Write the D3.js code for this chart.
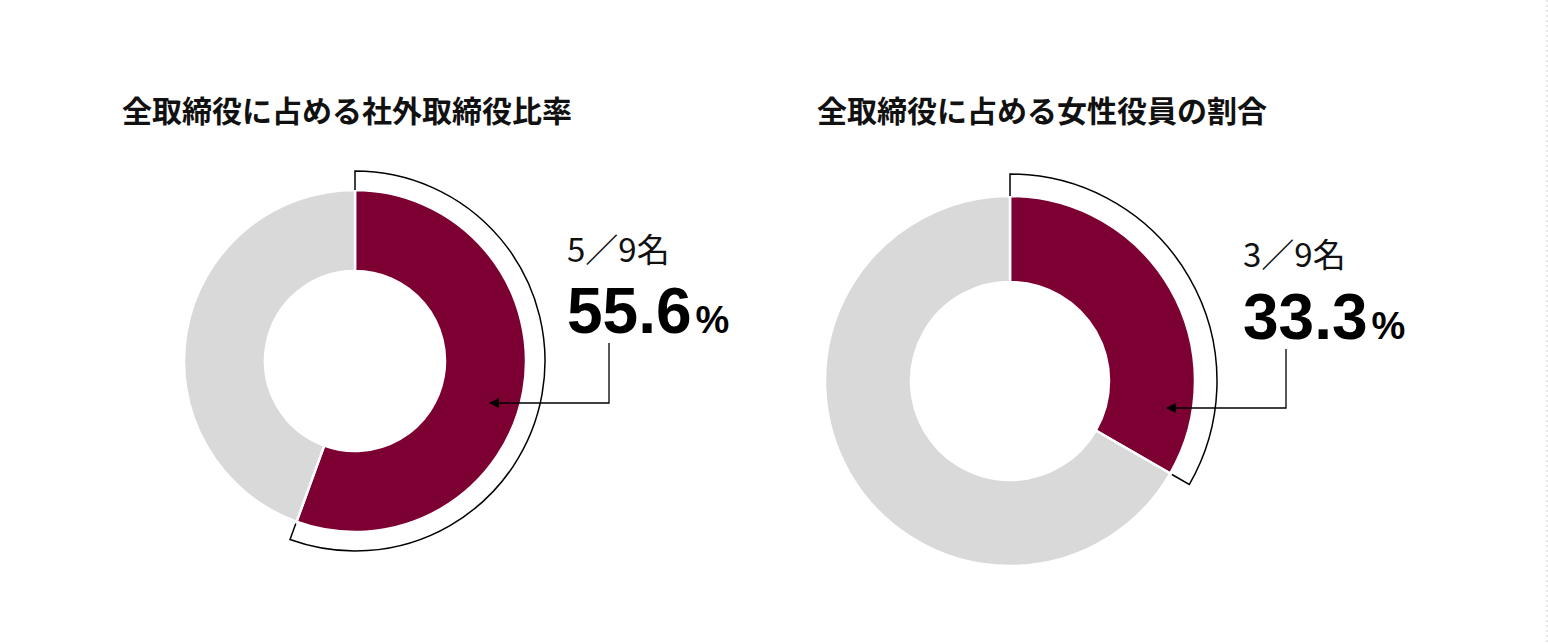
<!DOCTYPE html><html><head><meta charset="utf-8"><script src="https://cdn.jsdelivr.net/npm/d3@7"></script>
<style>body{margin:0;background:#fff}</style></head><body><svg id="c" width="1548" height="644"></svg><script>
const titles=["全取締役に占める社外取締役比率","全取締役に占める女性役員の割合"];
const counts=[5,3];
const totals=[9,9];
const pctLabels=["55.6","33.3"];
const svg=d3.select("#c");
const font="'Noto Sans CJK JP','Noto Sans',sans-serif";
svg.append("line").attr("x1",1547).attr("x2",1547).attr("y1",0).attr("y2",644).attr("stroke","#ccc").attr("stroke-dasharray","2,3");
const cfg=[{cx:355,cy:361,r:171,ri:90,rb:190,tx:122,lx:567,ly:262,px:567,py:333,leadX:609,leadTop:343,leadY:403,arrowX:490},
{cx:1010,cy:381,r:185,ri:99,rb:207,tx:817,lx:1243,ly:267,px:1243,py:339,leadX:1286,leadTop:349,leadY:408,arrowX:1167}];
svg.append("defs").append("marker").attr("id","ar").attr("viewBox","0 0 10 10").attr("refX",9).attr("refY",5)
 .attr("markerWidth",10).attr("markerHeight",10).attr("markerUnits","userSpaceOnUse").attr("orient","auto")
 .append("path").attr("d","M0,0L10,5L0,10z").attr("fill","#000");
cfg.forEach((c,i)=>{
 svg.append("text").attr("x",c.tx).attr("y",122).attr("font-family",font).attr("font-weight","bold").attr("font-size",30).attr("fill","#111").text(titles[i]);
 const g=svg.append("g").attr("transform",`translate(${c.cx},${c.cy})`);
 const pie=d3.pie().sort(null)([counts[i],totals[i]-counts[i]]);
 const arc=d3.arc().innerRadius(c.ri).outerRadius(c.r);
 g.selectAll("path.s").data(pie).join("path").attr("d",arc).attr("fill",(d,j)=>j?"#d9d9d9":"#7d0033").attr("stroke","#fff").attr("stroke-width",2.5);
 const a1=pie[0].endAngle;
 const p=d3.path();
 const ptA=(r,a)=>[r*Math.sin(a),-r*Math.cos(a)];
 let s=ptA(c.r,0);p.moveTo(s[0],s[1]);let t=ptA(c.rb,0);p.lineTo(t[0],t[1]);
 p.arc(0,0,c.rb,-Math.PI/2,a1-Math.PI/2);let e=ptA(c.r+2,a1);p.lineTo(e[0],e[1]);
 g.append("path").attr("d",p.toString()).attr("fill","none").attr("stroke","#000").attr("stroke-width",1.5);
 svg.append("text").attr("x",c.lx).attr("y",c.ly).attr("font-family",font).attr("font-size",33).attr("fill","#111").text(`${counts[i]}／${totals[i]}名`);
 const tt=svg.append("text").attr("x",c.px).attr("y",c.py).attr("font-family","'Liberation Sans',Arial,sans-serif").attr("font-weight","bold").attr("fill","#000");
 tt.append("tspan").attr("font-size",64).text(pctLabels[i]);
 tt.append("tspan").attr("font-size",38).attr("dx",4).text("%");
 svg.append("path").attr("d",`M${c.leadX},${c.leadTop}V${c.leadY}H${c.arrowX}`).attr("fill","none").attr("stroke","#000").attr("stroke-width",1.3).attr("marker-end","url(#ar)");
});
</script></body></html>
